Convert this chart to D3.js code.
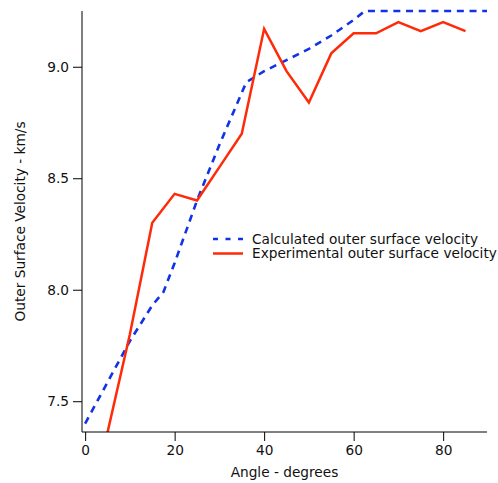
<!DOCTYPE html>
<html>
<head>
    <title>Outer Surface Velocity vs Angle</title>
    <style>
        body {
            margin: 0;
            background-color: #ffffff;
        }
        text {
            font-family: "DejaVu Sans", Verdana, sans-serif;
            font-size: 13.7px;
            fill: #111111;
        }
    </style>
    <script src="https://d3js.org/d3.v7.min.js"></script>
</head>
<body>
    <div id="chart"></div>

    <script>
        // calculated outer surface velocity (blue dashed)
        var calcAngle = [0, 10, 15, 17.5, 20, 25, 30, 36, 40, 45, 50, 55, 60, 62.5, 65, 70, 75, 80, 85, 90];
        var calcVel   = [7.40, 7.77, 7.93, 7.99, 8.12, 8.40, 8.65, 8.93, 8.98, 9.03, 9.08, 9.14, 9.21, 9.25, 9.25, 9.25, 9.25, 9.25, 9.25, 9.25];

        // experimental outer surface velocity (red)
        var expAngle = [5, 10, 15, 20, 25, 30, 35, 40, 45, 50, 55, 60, 65, 70, 75, 80, 85];
        var expVel   = [7.36, 7.80, 8.30, 8.43, 8.40, 8.55, 8.70, 9.17, 8.98, 8.84, 9.06, 9.15, 9.15, 9.20, 9.16, 9.20, 9.16];

        var xTicks = [0, 20, 40, 60, 80];
        var yTicks = [7.5, 8.0, 8.5, 9.0];
        var legendLabels = ["Calculated outer surface velocity", "Experimental outer surface velocity"];

        var width = 498, height = 483;
        // note: "top" is reserved on window, so use plot* names
        var plotLeft = 82, plotRight = 487, plotTop = 11, plotBottom = 432;

        var svg = d3.select('#chart')
            .append('svg')
            .attr('width', width)
            .attr('height', height);

        var x = d3.scaleLinear()
            .domain([-0.7, 89.8])
            .range([plotLeft, plotRight]);

        var y = d3.scaleLinear()
            .domain([7.362, 9.25])
            .range([plotBottom, plotTop]);

        // clip the curves to the plot area
        svg.append('clipPath')
            .attr('id', 'plot-clip')
            .append('rect')
            .attr('x', plotLeft)
            .attr('y', plotTop - 2)
            .attr('width', plotRight - plotLeft)
            .attr('height', plotBottom - plotTop + 2);

        var calc = calcAngle.map(function(a, i) { return [a, calcVel[i]]; });
        var exp = expAngle.map(function(a, i) { return [a, expVel[i]]; });

        var line = d3.line()
            .x(function(d) { return x(d[0]); })
            .y(function(d) { return y(d[1]); });

        var plot = svg.append('g').attr('clip-path', 'url(#plot-clip)');

        plot.append('path')
            .datum(calc)
            .attr('d', line)
            .attr('fill', 'none')
            .attr('stroke', '#1232e6')
            .attr('stroke-width', 2.6)
            .attr('stroke-dasharray', '7,5.7');

        plot.append('path')
            .datum(exp)
            .attr('d', line)
            .attr('fill', 'none')
            .attr('stroke', '#ff2a08')
            .attr('stroke-width', 2.5)
            .attr('stroke-linejoin', 'miter');

        // axes
        var xAxis = svg.append('g')
            .attr('transform', 'translate(0,' + plotBottom + ')')
            .call(d3.axisBottom(x).tickValues(xTicks).tickSize(9).tickPadding(4).tickFormat(d3.format('d')));

        var yAxis = svg.append('g')
            .attr('transform', 'translate(' + plotLeft + ',0)')
            .call(d3.axisLeft(y).tickValues(yTicks).tickSize(9).tickPadding(4).tickFormat(d3.format('.1f')));

        [xAxis, yAxis].forEach(function(g) {
            g.select('.domain').attr('stroke', '#000').attr('stroke-width', 1);
            g.selectAll('.tick line').attr('stroke', '#000');
            g.selectAll('.tick text')
                .style('font-family', '"DejaVu Sans", Verdana, sans-serif')
                .style('font-size', '13.7px')
                .attr('fill', '#111');
        });
        xAxis.select('.domain').attr('d', 'M' + plotLeft + ',0H' + plotRight);
        yAxis.select('.domain').attr('d', 'M0,' + plotTop + 'V' + plotBottom);

        // axis labels
        svg.append('text')
            .attr('x', (plotLeft + plotRight) / 2)
            .attr('y', 476.5)
            .style('text-anchor', 'middle')
            .text('Angle - degrees');

        svg.append('text')
            .attr('transform', 'translate(25,' + (plotTop + plotBottom) / 2 + ') rotate(-90)')
            .style('text-anchor', 'middle')
            .text('Outer Surface Velocity - km/s');

        // legend
        var legend = svg.append('g');
        var legendY = [239, 253.5];

        legend.append('line')
            .attr('x1', 213).attr('x2', 243)
            .attr('y1', legendY[0]).attr('y2', legendY[0])
            .attr('stroke', '#1232e6')
            .attr('stroke-width', 2.6)
            .attr('stroke-dasharray', '5,7.5');

        legend.append('line')
            .attr('x1', 213).attr('x2', 243)
            .attr('y1', legendY[1]).attr('y2', legendY[1])
            .attr('stroke', '#ff2a08')
            .attr('stroke-width', 2.5);

        legend.selectAll('text.legend-label')
            .data(legendLabels)
            .enter()
            .append('text')
            .attr('class', 'legend-label')
            .attr('x', 252)
            .attr('y', function(d, i) { return legendY[i] + 4.5; })
            .text(function(d) { return d; });
    </script>
</body>
</html>
